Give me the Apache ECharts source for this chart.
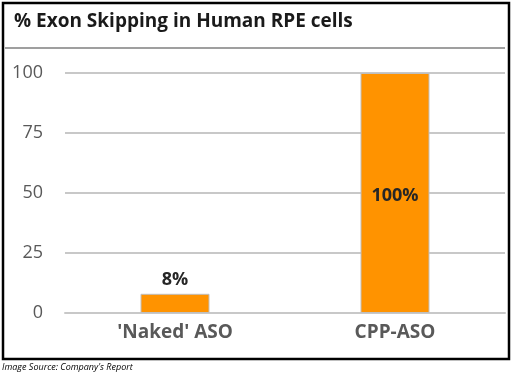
<!DOCTYPE html>
<html><head><meta charset="utf-8">
<script src="https://cdn.jsdelivr.net/npm/echarts@6/dist/echarts.min.js"></script>
<style>html,body{margin:0;padding:0;background:#fff}#c{width:514px;height:379px}</style>
</head><body><div id="c"></div>
<script>
var categories = ["'Naked' ASO", "CPP-ASO"];
var values = [8, 100];
var valueLabels = ["8%", "100%"];
var yTicks = [0, 25, 50, 75, 100];

var chart = echarts.init(document.getElementById('c'), null, {renderer: 'canvas'});
chart.setOption({
  animation: false,
  title: {
    text: '% Exon Skipping in Human RPE cells',
    left: 9, top: 7,
    textStyle: {fontFamily: 'Open Sans', fontWeight: 'bold', fontSize: 19, color: '#1a1a1a'}
  },
  graphic: [
    {type: 'rect', shape: {x: 3, y: 3, width: 506, height: 356}, style: {fill: 'none', stroke: '#000', lineWidth: 2.5}},
    {type: 'line', shape: {x1: 5, y1: 48, x2: 505, y2: 48}, style: {stroke: '#7f7f7f', lineWidth: 1.5}},
    {type: 'text', left: 2, top: 363, style: {text: "Image Source: Company's Report", fontFamily: 'Open Sans', fontStyle: 'italic', fontSize: 9, fill: '#000'}}
  ],
  grid: {left: 65, right: 9, top: 73, bottom: 66, containLabel: false},
  xAxis: {
    type: 'category', data: categories,
    axisLine: {show: true, lineStyle: {color: '#c8c8c8', width: 2}},
    axisTick: {show: false},
    axisLabel: {fontFamily: 'Open Sans', fontWeight: 'bold', fontSize: 19, color: '#595959', margin: 10}
  },
  yAxis: {
    type: 'value', min: 0, max: 100, interval: 25,
    axisLine: {show: false}, axisTick: {show: false},
    splitLine: {lineStyle: {color: '#c8c8c8', width: 2}},
    axisLabel: {fontFamily: 'Open Sans', fontSize: 18, color: '#595959', margin: 22,
      formatter: function (v) { return yTicks.indexOf(v) >= 0 ? String(v) : ''; }}
  },
  series: [{
    type: 'bar', barWidth: 69,
    data: values.map(function (v, i) {
      return {value: v, label: {position: i === 0 ? 'top' : 'inside', offset: i === 0 ? [0, 0] : [0, 3]}};
    }),
    itemStyle: {color: '#FF9300', borderColor: '#bfbfbf', borderWidth: 1},
    label: {show: true, fontFamily: 'Open Sans', fontWeight: 'bold', fontSize: 18, color: '#262626',
      formatter: function (p) { return valueLabels[p.dataIndex]; }}
  }]
});
</script></body></html>
